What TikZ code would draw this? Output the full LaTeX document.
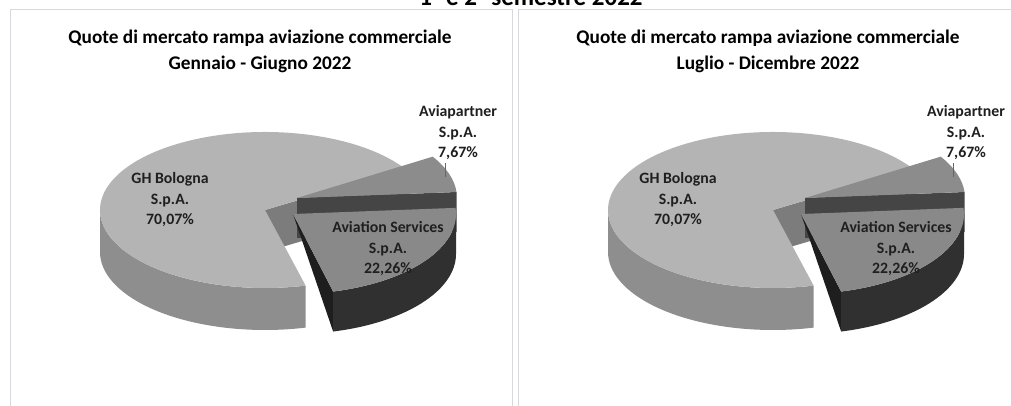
\documentclass[tikz,border=0pt]{standalone}
\usepackage{fontspec}
\setmainfont{Carlito}
\usetikzlibrary{calc}
\definecolor{ghtop}{HTML}{B4B4B4}
\definecolor{ghside}{HTML}{8E8E8E}
\definecolor{ghrad}{HTML}{7C7C7C}
\definecolor{aptop}{HTML}{8C8C8C}
\definecolor{aprad}{HTML}{454545}
\definecolor{astop}{HTML}{898989}
\definecolor{asside}{HTML}{303030}
\definecolor{asrad}{HTML}{1E1E1E}
\definecolor{panelgray}{HTML}{D8D8DE}
\newcommand\piechart[3]{%
\begin{scope}[xshift=#1pt]
\draw[panel] (10,-10) rectangle (512,-430);
\node[ttl] (#2title) at (260,-51) {Quote di mercato rampa aviazione commerciale\\#3};
% GH Bologna
\coordinate (#2gh) at (265,-210);
\fill[ghrad] (#2gh) -- ++(32:165 and 78) -- ++(0,-42) -- ($(#2gh)+(0,-42)$) -- cycle;
\fill[ghside] ($(#2gh)+(180:165 and 78)$) arc[start angle=180,end angle=284.25,x radius=165,y radius=78] -- ++(0,-42) arc[start angle=284.25,end angle=180,x radius=165,y radius=78] -- cycle;
\fill[ghtop] (#2gh) -- ++(32:165 and 78) arc[start angle=32,end angle=284.25,x radius=165,y radius=78] -- cycle;
% Aviapartner
\coordinate (#2ap) at (297,-198);
\fill[aprad] (#2ap) -- ++(4.4:160 and 78) -- ++(0,-40) -- ($(#2ap)+(0,-40)$) -- cycle;
\fill[aptop] (#2ap) -- ++(4.4:160 and 78) arc[start angle=4.4,end angle=32,x radius=160,y radius=78] -- cycle;
% Aviation Services
\coordinate (#2as) at (293,-214);
\fill[asrad] (#2as) -- ++(284.25:163 and 80) -- ++(0,-40) -- cycle;
\fill[asside] ($(#2as)+(284.25:163 and 80)$) arc[start angle=284.25,end angle=360,x radius=163,y radius=80] -- ++(0,-40) arc[start angle=360,end angle=284.25,x radius=163,y radius=80] -- cycle;
\fill[astop] (#2as) -- ++(284.25:163 and 80) arc[start angle=284.25,end angle=364.4,x radius=163,y radius=80] -- cycle;
% labels
\node[lbl] (#2lgh) at (170,-200) {GH Bologna\\S.p.A.\\70,07\%};
\node[lbl] (#2las) at (388,-249) {Aviation Services\\S.p.A.\\22,26\%};
\node[lbl] (#2lap) at (458,-133) {Aviapartner\\S.p.A.\\7,67\%};
\coordinate (#2lapend) at (445,-177);
\draw[leader] ($(#2lap.south -| #2lapend)+(0,-3)$) -- (#2lapend);
\end{scope}}
\begin{document}
\begin{tikzpicture}[x=1pt,y=1pt,
  lbl/.style={font=\bfseries\fontsize{15.8}{20.5}\selectfont, align=center, text=black!88, inner sep=0pt},
  ttl/.style={font=\bfseries\fontsize{19.3}{26}\selectfont, align=center, inner sep=0pt},
  panel/.style={draw=panelgray, line width=1pt},
  leader/.style={draw=black!60, line width=0.8pt}]
\useasboundingbox (0,0) rectangle (1011,-406);
\clip (0,0) rectangle (1011,-406);
\fill[white] (0,0) rectangle (1011,-406);
\node[font=\bfseries\fontsize{25}{27}\selectfont, anchor=base] (top) at (531,-6) {1° e 2° semestre 2022};
\piechart{0}{L}{Gennaio - Giugno 2022}
\piechart{508}{R}{Luglio - Dicembre 2022}
\end{tikzpicture}
\end{document}
